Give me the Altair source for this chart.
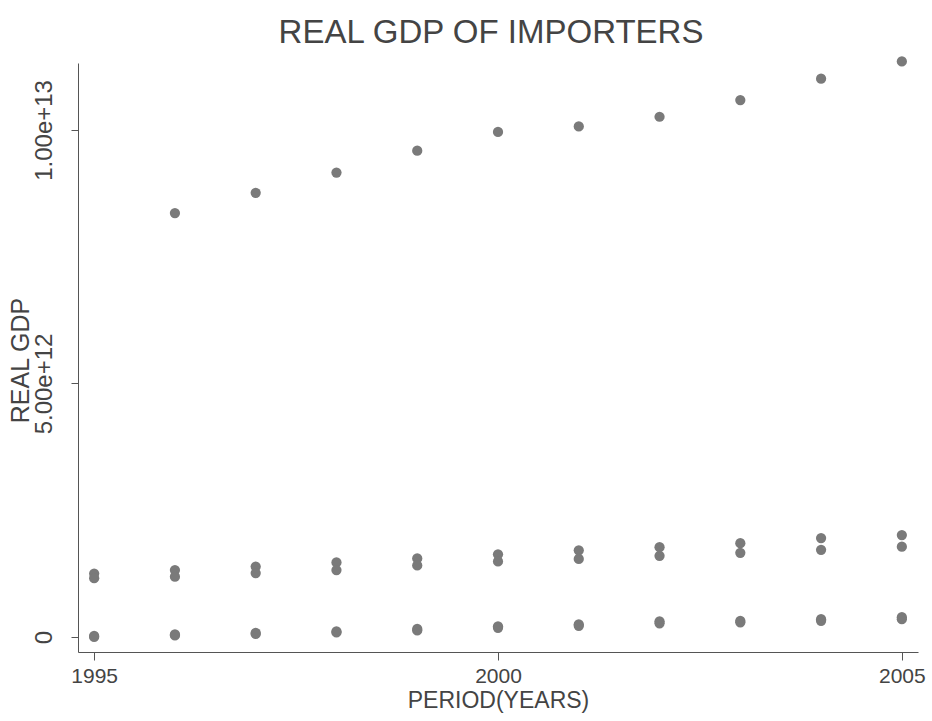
import altair as alt
import pandas as pd

years = [1995, 1996, 1997, 1998, 1999, 2000, 2001, 2002, 2003, 2004, 2005]

# Real GDP readings (in 1e12 units), one list per importer
importer_a = [None, 8.36, 8.76, 9.16, 9.59, 9.96, 10.07, 10.26, 10.59, 11.01, 11.35]
importer_b = [1.25, 1.32, 1.39, 1.47, 1.55, 1.63, 1.71, 1.77, 1.85, 1.95, 2.01]
importer_c = [1.16, 1.19, 1.26, 1.32, 1.41, 1.49, 1.54, 1.60, 1.66, 1.72, 1.78]
importer_d = [0.02, 0.05, 0.08, 0.11, 0.16, 0.21, 0.25, 0.31, 0.32, 0.35, 0.39]
importer_e = [0.00, 0.03, 0.06, 0.09, 0.13, 0.18, 0.22, 0.27, 0.29, 0.32, 0.35]

series = {
    "Importer A": importer_a,
    "Importer B": importer_b,
    "Importer C": importer_c,
    "Importer D": importer_d,
    "Importer E": importer_e,
}

rows = []
for name, vals in series.items():
    for yr, v in zip(years, vals):
        if v is not None:
            rows.append({"year": yr, "gdp": v * 1e12, "importer": name})
df = pd.DataFrame(rows)

FONT = "Liberation Sans, Arial, sans-serif"
TXT = "#444444"

chart = (
    alt.Chart(df)
    .mark_circle(size=105, opacity=1, color="#7a7a7a")
    .encode(
        x=alt.X(
            "year:Q",
            scale=alt.Scale(domain=[1994.8, 2005.2], nice=False, zero=False),
            axis=alt.Axis(
                title="PERIOD(YEARS)",
                values=[1995, 2000, 2005],
                format="d",
                grid=False,
                tickSize=8,
                labelPadding=5,
                labelFont=FONT,
                labelFontSize=21,
                labelColor=TXT,
                titleFont=FONT,
                titleFontSize=23,
                titleFontWeight="normal",
                titleColor=TXT,
                titlePadding=3,
                domainColor="#555555",
                tickColor="#555555",
            ),
        ),
        y=alt.Y(
            "gdp:Q",
            scale=alt.Scale(domain=[-0.296e12, 11.32e12], nice=False, zero=False),
            axis=alt.Axis(
                title="REAL GDP",
                values=[0, 5e12, 1e13],
                labelExpr="datum.value == 0 ? '0' : format(datum.value, '.2e')",
                grid=False,
                tickSize=7,
                labelAngle=270,
                labelAlign="center",
                labelBaseline="bottom",
                labelPadding=15,
                labelFont=FONT,
                labelFontSize=24,
                labelColor=TXT,
                titleFont=FONT,
                titleFontSize=25,
                titleFontWeight="normal",
                titleColor=TXT,
                titleAngle=270,
                titleAlign="center",
                titleBaseline="bottom",
                titleX=-45,
                titleY=297,
                domainColor="#555555",
                tickColor="#555555",
            ),
        ),
    )
    .properties(
        width=840,
        height=589,
        background="white",
        autosize=alt.AutoSizeParams(type="none"),
        padding={"left": 78, "top": 63, "right": 14, "bottom": 69},
        title=alt.TitleParams(
            "REAL  GDP OF IMPORTERS",
            font=FONT,
            fontSize=33,
            fontWeight="normal",
            color=TXT,
            anchor="middle",
            dx=-7,
            offset=6,
        ),
    )
    .configure_view(stroke=None)
)

chart.save("out.html", embed_options={"renderer": "svg", "actions": False})
